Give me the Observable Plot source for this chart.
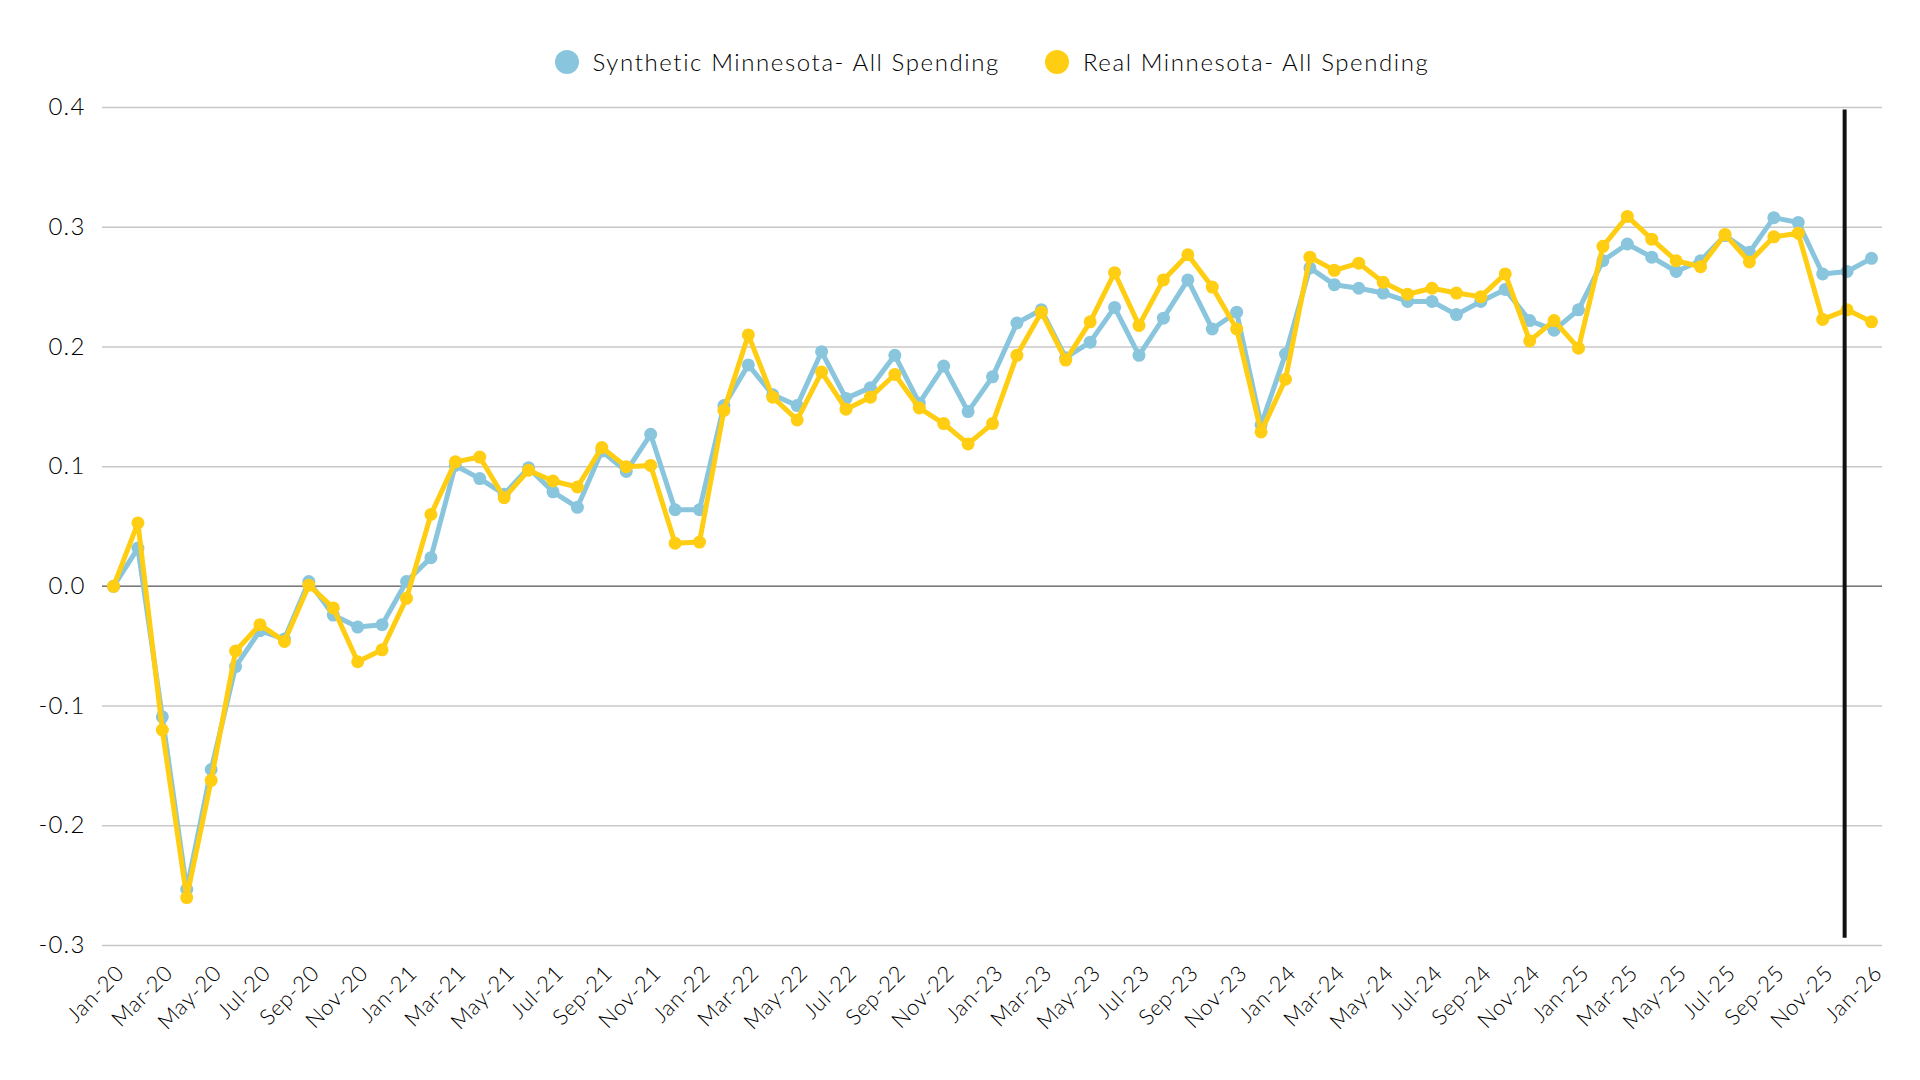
<!DOCTYPE html>
<html>
<head>
<meta charset="utf-8">
<script src="https://cdn.jsdelivr.net/npm/d3@7"></script>
<script src="https://cdn.jsdelivr.net/npm/@observablehq/plot@0.6"></script>
<style>
  html, body { margin: 0; padding: 0; background: #fff; }
  body { width: 1920px; height: 1080px; overflow: hidden; font-family: "Lato", sans-serif; }
  #legend {
    height: 90px; box-sizing: border-box; padding-top: 50px;
    margin-left: 102px; margin-right: 38px;
    display: flex; justify-content: center; align-items: flex-start;
    gap: 45px; font-size: 24px; font-weight: 300; letter-spacing: 1.6px; color: #000; line-height: 24px;
  }
  .item { display: flex; align-items: center; gap: 14px; }
  .sw { width: 24px; height: 24px; border-radius: 50%; display: inline-block; }
  g[aria-label="x-axis tick label"] text { letter-spacing: 0.8px; }
  g[aria-label="y-axis tick label"] text { letter-spacing: 1.2px; }
</style>
</head>
<body>
<div id="legend"></div>
<div id="chart"></div>
<script>
const months = [
  "Jan-20","Feb-20","Mar-20","Apr-20","May-20","Jun-20","Jul-20","Aug-20","Sep-20","Oct-20","Nov-20","Dec-20",
  "Jan-21","Feb-21","Mar-21","Apr-21","May-21","Jun-21","Jul-21","Aug-21","Sep-21","Oct-21","Nov-21","Dec-21",
  "Jan-22","Feb-22","Mar-22","Apr-22","May-22","Jun-22","Jul-22","Aug-22","Sep-22","Oct-22","Nov-22","Dec-22",
  "Jan-23","Feb-23","Mar-23","Apr-23","May-23","Jun-23","Jul-23","Aug-23","Sep-23","Oct-23","Nov-23","Dec-23",
  "Jan-24","Feb-24","Mar-24","Apr-24","May-24","Jun-24","Jul-24","Aug-24","Sep-24","Oct-24","Nov-24","Dec-24",
  "Jan-25","Feb-25","Mar-25","Apr-25","May-25","Jun-25","Jul-25","Aug-25","Sep-25","Oct-25","Nov-25","Dec-25",
  "Jan-26"
];

const synthetic = [
  0.000, 0.032, -0.109, -0.253, -0.153, -0.067, -0.037, -0.044, 0.004, -0.024, -0.034, -0.032,
  0.004, 0.024, 0.101, 0.090, 0.077, 0.099, 0.079, 0.066, 0.113, 0.096, 0.127, 0.064,
  0.064, 0.151, 0.185, 0.160, 0.151, 0.196, 0.157, 0.166, 0.193, 0.153, 0.184, 0.146,
  0.175, 0.220, 0.231, 0.191, 0.204, 0.233, 0.193, 0.224, 0.256, 0.215, 0.229, 0.135,
  0.194, 0.266, 0.252, 0.249, 0.245, 0.238, 0.238, 0.227, 0.238, 0.248, 0.222, 0.214,
  0.231, 0.272, 0.286, 0.275, 0.263, 0.272, 0.293, 0.279, 0.308, 0.304, 0.261, 0.263,
  0.274
];

const real = [
  0.000, 0.053, -0.120, -0.260, -0.162, -0.054, -0.032, -0.046, 0.001, -0.018, -0.063, -0.053,
  -0.010, 0.060, 0.104, 0.108, 0.074, 0.097, 0.088, 0.083, 0.116, 0.100, 0.101, 0.036,
  0.037, 0.147, 0.210, 0.158, 0.139, 0.179, 0.148, 0.158, 0.177, 0.149, 0.136, 0.119,
  0.136, 0.193, 0.229, 0.189, 0.221, 0.262, 0.218, 0.256, 0.277, 0.250, 0.215, 0.129,
  0.173, 0.275, 0.264, 0.270, 0.254, 0.244, 0.249, 0.245, 0.242, 0.261, 0.205, 0.222,
  0.199, 0.284, 0.309, 0.290, 0.272, 0.267, 0.294, 0.271, 0.292, 0.295, 0.223, 0.231,
  0.221
];

const seriesNames = ["Synthetic Minnesota- All Spending", "Real Minnesota- All Spending"];
const seriesColors = ["#89c6dd", "#ffcd11"];
const yTicks = [-0.3, -0.2, -0.1, 0, 0.1, 0.2, 0.3, 0.4];
const xTicks = months.map((m, i) => i).filter(i => i % 2 === 0);
const cutoff = 70.9;           // position of the vertical marker (month index)
const cutoffSpan = [0.398, -0.294];

// legend
const legend = document.getElementById("legend");
seriesNames.forEach((name, k) => {
  const it = document.createElement("div");
  it.className = "item";
  it.innerHTML = `<span class="sw" style="background:${seriesColors[k]}"></span><span>${name}</span>`;
  legend.appendChild(it);
});

const chart = Plot.plot({
  width: 1920,
  height: 990,
  marginTop: 17,
  marginBottom: 135,
  marginLeft: 102,
  marginRight: 38,
  style: { fontFamily: "Lato, sans-serif", fontWeight: 300, color: "#000", background: "white" },
  x: { type: "linear", domain: [0, months.length - 1], insetLeft: 11, insetRight: 11 },
  y: { domain: [-0.3, 0.4] },
  marks: [
    Plot.gridY(yTicks, { stroke: "#c8c8c8", strokeOpacity: 1, strokeWidth: 1.5 }),
    Plot.ruleY([0], { stroke: "#7a7a7a", strokeWidth: 1.5 }),
    Plot.axisY(yTicks, { tickSize: 0, tickPadding: 17, fontSize: 24, tickFormat: d => d.toFixed(1), label: null }),
    Plot.axisX(xTicks, { tickSize: 0, tickRotate: -45, fontSize: 22, tickFormat: i => months[i], label: null, tickPadding: 24, dx: 7 }),
    Plot.line(synthetic, { x: (d, i) => i, y: d => d, stroke: seriesColors[0], strokeWidth: 5 }),
    Plot.dot(synthetic, { x: (d, i) => i, y: d => d, r: 6.5, fill: seriesColors[0] }),
    Plot.line(real, { x: (d, i) => i, y: d => d, stroke: seriesColors[1], strokeWidth: 5 }),
    Plot.dot(real, { x: (d, i) => i, y: d => d, r: 6.5, fill: seriesColors[1] }),
    Plot.ruleX([cutoff], { y1: cutoffSpan[0], y2: cutoffSpan[1], stroke: "#111", strokeWidth: 4 })
  ]
});
document.getElementById("chart").appendChild(chart);
</script>
</body>
</html>
